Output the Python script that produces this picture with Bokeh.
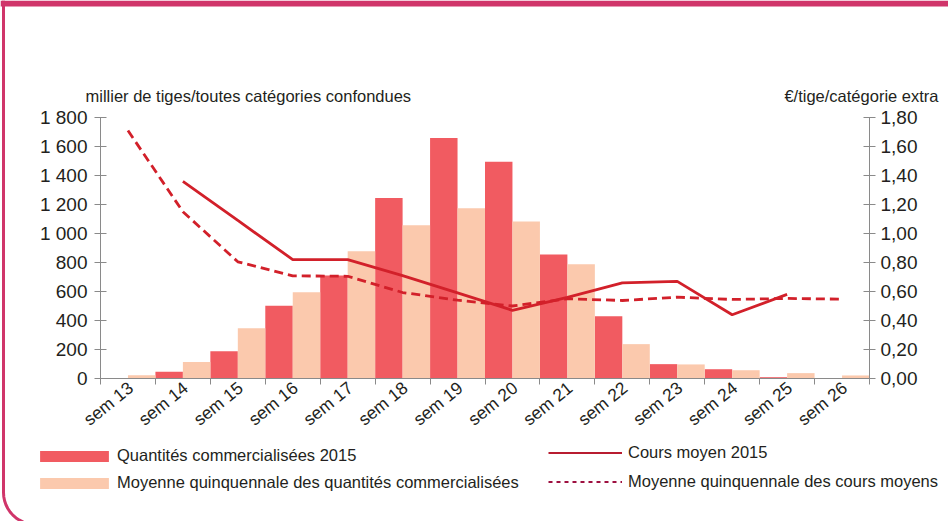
import math
import numpy as np
from bokeh.plotting import figure
from bokeh.models import (Range1d, LinearAxis, FixedTicker, CustomJSTickFormatter,
                          Legend, LegendItem, Label, BoxAnnotation, PolyAnnotation)
from bokeh.embed import file_html
from bokeh.resources import INLINE

# ---------------- data ----------------
weeks = ["sem 13", "sem 14", "sem 15", "sem 16", "sem 17", "sem 18", "sem 19",
         "sem 20", "sem 21", "sem 22", "sem 23", "sem 24", "sem 25", "sem 26"]
qty_2015 = [0, 46, 188, 501, 710, 1244, 1658, 1494, 855, 430, 99, 64, 9, 0]
qty_avg5 = [23, 113, 347, 595, 878, 1057, 1175, 1083, 788, 237, 97, 57, 37, 21]
price_2015 = [np.nan, 1.36, 1.09, 0.82, 0.82, 0.71, 0.59, 0.47, 0.56, 0.66, 0.67, 0.44, 0.58, np.nan]
price_avg5 = [1.71, 1.15, 0.805, 0.708, 0.705, 0.593, 0.54, 0.50, 0.55, 0.538, 0.561, 0.545, 0.552, 0.547]
qty_ticks = [0, 200, 400, 600, 800, 1000, 1200, 1400, 1600, 1800]
price_ticks = [0.0, 0.2, 0.4, 0.6, 0.8, 1.0, 1.2, 1.4, 1.6, 1.8]

title_left = "millier de tiges/toutes catégories confondues"
title_right = "€/tige/catégorie extra"
lbl_q2015 = "Quantités commercialisées 2015"
lbl_qavg = "Moyenne quinquennale des quantités commercialisées"
lbl_p2015 = "Cours moyen 2015"
lbl_pavg = "Moyenne quinquennale des cours moyens"

# ---------------- layout (pixels) ----------------
W, H = 948, 521
PLOT_L, PLOT_R, PLOT_T, PLOT_B = 100, 869, 117, 378   # axes box on the canvas

# ---------------- style ----------------
FONT = "Liberation Sans"
TXT = "#231F20"
AXC = "#8A8A8A"
RED_BAR = "#F15B61"
PALE_BAR = "#FBC9AD"
LINE_RED = "#D2202A"
FRAME = "#D0356A"

n = len(weeks)
idx = np.arange(n)

# the frame covers the whole canvas; axes are pinned at fixed data locations
qmax = qty_ticks[-1]
pmax = price_ticks[-1]
xpx = (PLOT_R - PLOT_L) / n
ypx = (PLOT_B - PLOT_T) / qmax
x_range = Range1d(-PLOT_L / xpx, n + (W - PLOT_R) / xpx)
y_range = Range1d(-(H - PLOT_B) / ypx, qmax + PLOT_T / ypx)
k = pmax / qmax
price_range = Range1d(y_range.start * k, y_range.end * k)

p = figure(width=W, height=H, x_range=x_range, y_range=y_range,
           output_backend="svg", toolbar_location=None,
           min_border=0, outline_line_color=None,
           background_fill_color="white", border_fill_color="white")
p.xgrid.visible = False
p.ygrid.visible = False
p.extra_y_ranges = {"price": price_range}

# bars
r_q = p.vbar(x=idx + 0.25, top=qty_2015, width=0.5, fill_color=RED_BAR, line_color=None)
r_a = p.vbar(x=idx + 0.75, top=qty_avg5, width=0.5, fill_color=PALE_BAR, line_color=None)

# lines
p.line(x=idx + 0.5, y=price_avg5, y_range_name="price", line_color=LINE_RED,
       line_width=2.8, line_dash="9 5")
p.line(x=idx + 0.5, y=price_2015, y_range_name="price", line_color=LINE_RED,
       line_width=2.8)

# legend-only renderers
r_l1 = p.line(x=[np.nan], y=[np.nan], line_color="#B81C30", line_width=2.2)
r_l2 = p.line(x=[np.nan], y=[np.nan], line_color="#9E1040", line_width=2, line_dash="4 4")

# ---------------- axes ----------------
def style_axis(ax, size):
    ax.axis_line_color = AXC
    ax.major_tick_line_color = AXC
    ax.minor_tick_line_color = AXC
    ax.major_label_text_font = FONT
    ax.major_label_text_font_size = size
    ax.major_label_text_color = TXT

ly = p.yaxis[0]
ly.fixed_location = 0
ly.bounds = (0, qmax)
ly.ticker = FixedTicker(ticks=qty_ticks)
ly.formatter = CustomJSTickFormatter(code="""
    const t = Math.round(tick);
    if (t >= 1000) { return Math.floor(t/1000) + ' ' + String(t % 1000).padStart(3, '0'); }
    return String(t);
""")
style_axis(ly, "19px")
ly.major_tick_in = 6
ly.major_tick_out = 6
ly.minor_tick_in = 0
ly.minor_tick_out = 0
ly.major_label_standoff = 7

ry = LinearAxis(y_range_name="price", ticker=FixedTicker(ticks=price_ticks),
                formatter=CustomJSTickFormatter(code="return tick.toFixed(2).replace('.', ',');"))
ry.fixed_location = n
ry.bounds = (0, pmax)
style_axis(ry, "19px")
ry.major_tick_in = 6
ry.major_tick_out = 6
ry.minor_tick_in = 0
ry.minor_tick_out = 0
ry.major_label_standoff = 5
p.add_layout(ry, "right")

bx = p.xaxis[0]
bx.fixed_location = 0
bx.bounds = (0, n)
bx.ticker = FixedTicker(ticks=list(idx + 0.55), minor_ticks=list(range(n + 1)))
bx.formatter = CustomJSTickFormatter(args=dict(labels=weeks),
                                     code="return labels[Math.floor(tick)];")
style_axis(bx, "17.5px")
bx.major_tick_in = 0
bx.major_tick_out = 0
bx.minor_tick_in = 0
bx.minor_tick_out = 6
bx.major_label_orientation = 0.68
bx.major_label_standoff = 1

# ---------------- axis titles ----------------
p.add_layout(Label(x=85, y=H - 95, x_units="screen", y_units="screen", text=title_left,
                   text_font=FONT, text_font_size="16.5px", text_color=TXT,
                   text_baseline="alphabetic", text_align="left"))
p.add_layout(Label(x=938, y=H - 95, x_units="screen", y_units="screen", text=title_right,
                   text_font=FONT, text_font_size="16.5px", text_color=TXT,
                   text_baseline="alphabetic", text_align="right"))

# ---------------- legends ----------------
common = dict(padding=0, margin=0, border_line_color=None,
              background_fill_alpha=0, label_text_font=FONT, label_text_font_size="16.5px",
              label_text_color=TXT, label_height=19)
# area legend glyphs are inset by 10% on each side -> enlarge the glyph box
leg1 = Legend(items=[LegendItem(label=lbl_q2015, renderers=[r_q]),
                     LegendItem(label=lbl_qavg, renderers=[r_a])],
              location=(31, 29), spacing=8, glyph_width=86, glyph_height=14,
              label_standoff=0, **common)
leg2 = Legend(items=[LegendItem(label=lbl_p2015, renderers=[r_l1]),
                     LegendItem(label=lbl_pavg, renderers=[r_l2])],
              location=(548, 30), spacing=10, glyph_width=74, glyph_height=11,
              label_standoff=6, **common)
p.add_layout(leg1, "center")
p.add_layout(leg2, "center")

# ---------------- card frame ----------------
p.add_layout(BoxAnnotation(left=0, right=W, top=0, bottom=6,
                           left_units="canvas", right_units="canvas",
                           top_units="canvas", bottom_units="canvas",
                           fill_color=FRAME, fill_alpha=1, line_color=None))
arc_r = 32
cx, cy = 3 + arc_r, H + 3 - arc_r
xs = [3, 3]
ys = [0, cy]
for j in range(1, 13):
    a = j * (math.pi / 2) / 12
    xs.append(cx - arc_r * math.cos(a))
    ys.append(cy + arc_r * math.sin(a))
p.add_layout(PolyAnnotation(xs=xs + xs[::-1], ys=ys + ys[::-1],
                            xs_units="canvas", ys_units="canvas",
                            fill_alpha=0, line_color=FRAME, line_alpha=1, line_width=3))

open("out.html", "w").write(file_html(p, INLINE))
